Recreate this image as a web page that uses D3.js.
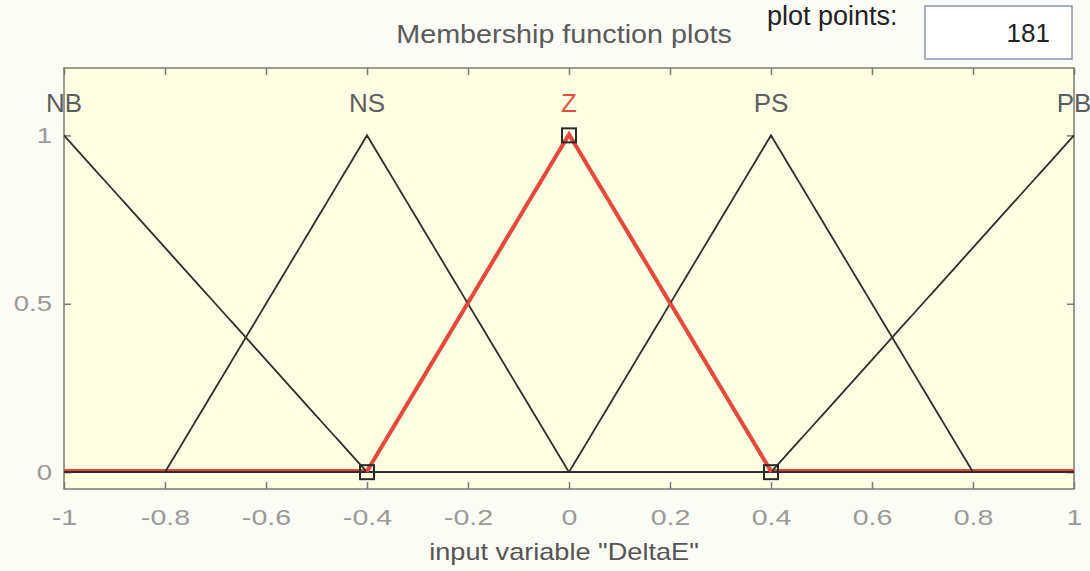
<!DOCTYPE html>
<html>
<head>
<meta charset="utf-8">
<script src="https://cdn.jsdelivr.net/npm/d3@7"></script>
<style>
  html, body { margin: 0; padding: 0; background: #fcfcf7; }
  svg { display: block; font-family: "Liberation Sans", Arial, sans-serif; }
</style>
</head>
<body>
<svg id="chart" width="1090" height="571"></svg>
<script>
// Membership functions of the input variable "DeltaE" (triangular, [a b c])
const mfNames  = ["NB", "NS", "Z", "PS", "PB"];
const mfParams = [[-1.6, -1, -0.4], [-0.8, -0.4, 0], [-0.4, 0, 0.4], [0, 0.4, 0.8], [0.4, 1, 1.6]];
const selectedMf = "Z";
const plotPoints = 181;
const xRange = [-1, 1];
const xTicks = [-1, -0.8, -0.6, -0.4, -0.2, 0, 0.2, 0.4, 0.6, 0.8, 1];
const yTicks = [0, 0.5, 1];
const labelLevel = 1.1;

const svg = d3.select("#chart");
const m = { left: 64, right: 1074, top: 68, bottom: 489 };

const x = d3.scaleLinear().domain(xRange).range([m.left, m.right]);
const y = d3.scaleLinear().domain([-0.05, 1.2]).range([m.bottom, m.top]);

const trimf = (v, [a, b, c]) => Math.max(Math.min((v - a) / (b - a), (c - v) / (c - b)), 0);
const xs = d3.range(plotPoints).map(i => xRange[0] + i * (xRange[1] - xRange[0]) / (plotPoints - 1));
const plainNum = d => String(d);

// Header: title, "plot points" field
svg.append("text")
  .attr("transform", "translate(564,43) scale(1.15,1)")
  .attr("text-anchor", "middle")
  .attr("font-size", 25).attr("fill", "#5a5a5a")
  .text("Membership function plots");

svg.append("text")
  .attr("x", 767).attr("y", 25)
  .attr("font-size", 27).attr("fill", "#222")
  .text("plot points:");

svg.append("rect")
  .attr("x", 925).attr("y", 6).attr("width", 147).attr("height", 53)
  .attr("fill", "#ffffff").attr("stroke", "#8c93b2").attr("stroke-width", 1.5);

svg.append("text")
  .attr("x", 1050).attr("y", 42)
  .attr("text-anchor", "end")
  .attr("font-size", 26).attr("fill", "#222")
  .text(plotPoints);

// Plot background
svg.append("rect")
  .attr("x", m.left).attr("y", m.top)
  .attr("width", m.right - m.left).attr("height", m.bottom - m.top)
  .attr("fill", "#fefee3");

// Axes with inward ticks on all four sides
const axisColor = "#7a7a72";
function styleAxis(g) {
  g.select(".domain").remove();
  g.selectAll(".tick line").attr("stroke", axisColor).attr("stroke-width", 1.5);
}

svg.append("g").attr("transform", `translate(0,${m.bottom})`)
  .call(d3.axisBottom(x).tickValues(xTicks).tickSize(-7).tickPadding(20).tickFormat(plainNum))
  .call(styleAxis)
  .call(g => g.selectAll(".tick text")
    .attr("font-size", 22).attr("fill", "#9a9a96")
    .attr("font-family", "Liberation Sans, Arial, sans-serif")
    .attr("transform", "scale(1.3,1)"));

svg.append("g").attr("transform", `translate(0,${m.top})`)
  .call(d3.axisTop(x).tickValues(xTicks).tickSize(-7).tickFormat(""))
  .call(styleAxis);

svg.append("g").attr("transform", `translate(${m.left},0)`)
  .call(d3.axisLeft(y).tickValues(yTicks).tickSize(-7).tickPadding(9.6).tickFormat(plainNum))
  .call(styleAxis)
  .call(g => g.selectAll(".tick text")
    .attr("font-size", 22).attr("fill", "#9a9a96")
    .attr("font-family", "Liberation Sans, Arial, sans-serif")
    .attr("transform", "scale(1.25,1)"));

svg.append("g").attr("transform", `translate(${m.right},0)`)
  .call(d3.axisRight(y).tickValues(yTicks).tickSize(-7).tickFormat(""))
  .call(styleAxis);

// Frame
svg.append("rect")
  .attr("x", m.left).attr("y", m.top)
  .attr("width", m.right - m.left).attr("height", m.bottom - m.top)
  .attr("fill", "none").attr("stroke", axisColor).attr("stroke-width", 1.5);

// Membership function curves
const line = d3.line().x(d => x(d[0])).y(d => y(d[1]));
const curves = mfNames.map((name, i) => ({
  name, params: mfParams[i],
  pts: xs.map(v => [v, trimf(v, mfParams[i])])
}));

const plot = svg.append("g");
// selected function first as a wide red band, the others on top
curves.filter(c => c.name === selectedMf).forEach(c => {
  plot.append("path").attr("d", line(c.pts))
    .attr("fill", "none").attr("stroke", "#e5493c").attr("stroke-width", 3.5)
    .attr("transform", "translate(0,-1.5)");
});
curves.filter(c => c.name !== selectedMf).forEach(c => {
  plot.append("path").attr("d", line(c.pts))
    .attr("fill", "none").attr("stroke", "#2e2e2e").attr("stroke-width", 1.8);
});
curves.filter(c => c.name === selectedMf).forEach(c => {
  plot.append("path").attr("d", line(c.pts.filter(p => p[1] > 0 || (p[0] >= c.params[0] && p[0] <= c.params[2]))))
    .attr("fill", "none").attr("stroke", "#e5493c").attr("stroke-width", 3);
  // parameter handles
  plot.selectAll(null).data(c.params).enter().append("rect")
    .attr("x", d => x(d) - 7).attr("y", d => y(trimf(d, c.params)) - 7)
    .attr("width", 14).attr("height", 14)
    .attr("fill", "none").attr("stroke", "#2a2a2a").attr("stroke-width", 2);
});

// Function names above each peak
curves.forEach(c => {
  svg.append("text")
    .attr("x", x(Math.max(xRange[0], Math.min(xRange[1], c.params[1]))))
    .attr("y", y(labelLevel) + 10)
    .attr("text-anchor", "middle")
    .attr("font-size", 26)
    .attr("fill", c.name === selectedMf ? "#e5503c" : "#5e5e5e")
    .text(c.name);
});

// X-axis title
svg.append("text")
  .attr("transform", "translate(564,560) scale(1.18,1)")
  .attr("text-anchor", "middle")
  .attr("font-size", 23).attr("fill", "#555")
  .text('input variable "DeltaE"');
</script>
</body>
</html>
